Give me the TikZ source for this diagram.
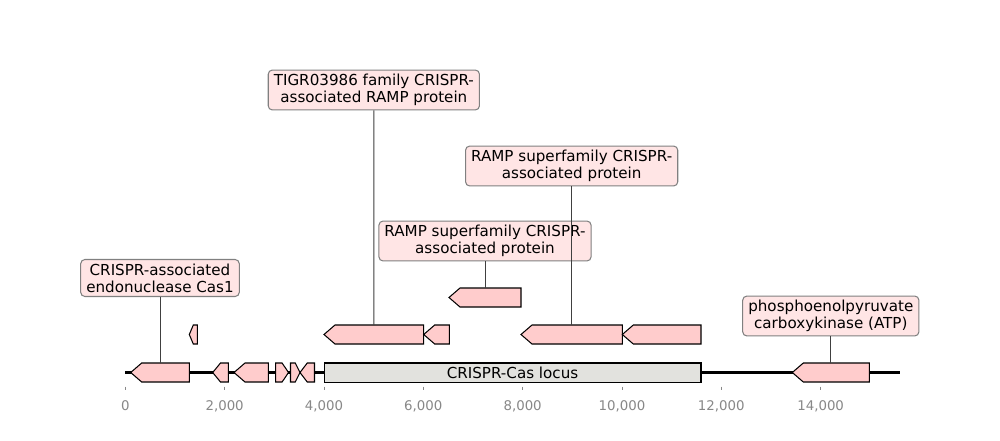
\documentclass[tikz,border=0pt]{standalone}
\usepackage{fontspec}
\setmainfont{DejaVu Sans}
\definecolor{featpink}{HTML}{FFCCCC}
\definecolor{labpink}{HTML}{FFE5E5}
\definecolor{labborder}{HTML}{808080}
\definecolor{locusgrey}{HTML}{E2E2DE}
\definecolor{tickgrey}{HTML}{888888}
% left-pointing feature: tip x, right x, centre y, name
\newcommand{\featL}[4]{%
  \draw[feat] (#1,#3) -- ({#1+min(11,(#2-#1)/2)},{#3-9.5}) -- (#2,{#3-9.5}) -- (#2,{#3+9.5}) -- ({#1+min(11,(#2-#1)/2)},{#3+9.5}) -- cycle;
  \coordinate (#4) at ({(#1+#2)/2},{#3-9.5});}
% right-pointing feature: left x, tip x, centre y, name
\newcommand{\featR}[4]{%
  \draw[feat] (#1,{#3-9.5}) -- ({#2-min(11,(#2-#1)/2)},{#3-9.5}) -- (#2,#3) -- ({#2-min(11,(#2-#1)/2)},{#3+9.5}) -- (#1,{#3+9.5}) -- cycle;
  \coordinate (#4) at ({(#1+#2)/2},{#3-9.5});}
\begin{document}
\begin{tikzpicture}[x=0.72pt,y=-0.72pt,
  feat/.style={draw=black, fill=featpink, line width=0.75pt, line join=miter},
  lab/.style={draw=labborder, fill=labpink, rounded corners=3pt, align=center,
    font=\fontsize{10.9}{12.2}\selectfont, inner xsep=4pt, inner ysep=3pt, line width=0.75pt},
  conn/.style={draw=black!75, line width=0.6pt},
  tickmark/.style={draw=tickgrey, line width=0.6pt},
  ticklab/.style={text=tickgrey, font=\fontsize{9.6}{11}\selectfont, inner sep=0pt},
  locusbox/.style={draw=black, fill=locusgrey, line width=0.75pt, inner sep=0pt,
    font=\fontsize{10.9}{12.2}\selectfont}]
\useasboundingbox (0,0) rectangle (1000,440);
\fill[white] (0,0) rectangle (1000,440);
% baseline
\coordinate (bstart) at (125,372.5);
\coordinate (bend) at (899.5,372.5);
\draw[black, line width=1.5pt] (bstart) -- (bend);
% row 1
\featL{130.7}{189.3}{372.5}{fcas1}
\featL{212.7}{228.3}{372.5}{f2}
\featL{234}{268.3}{372.5}{f3}
\featR{275.7}{288.5}{372.5}{f4}
\featR{290.5}{300}{372.5}{f5}
\featL{300}{314.5}{372.5}{f6}
\node[locusbox, minimum width=271.4pt, minimum height=13.7pt] (locus) at (512.5,372.5) {CRISPR-Cas locus};
\featL{792.3}{869.3}{372.5}{fpck}
% row 2
\featL{189.3}{197.3}{334.5}{f7}
\featL{324}{423.7}{334.5}{ftigr}
\featL{423.7}{449.3}{334.5}{f8}
\featL{521}{622.3}{334.5}{framp1}
\featL{622.3}{701}{334.5}{f9}
% row 3
\featL{449}{521}{297.5}{framp2}
% labels
\node[lab] (lcas1) at (160,278) {CRISPR-associated\\endonuclease Cas1};
\node[lab] (ltigr) at (373.85,90) {TIGR03986 family CRISPR-\\associated RAMP protein};
\node[lab] (lramp1) at (571.65,166) {RAMP superfamily CRISPR-\\associated protein};
\node[lab] (lramp2) at (485,241) {RAMP superfamily CRISPR-\\associated protein};
\node[lab] (lpck) at (830.8,316) {phosphoenolpyruvate\\carboxykinase (ATP)};
\draw[conn] (lcas1.south) -- (fcas1);
\draw[conn] (ltigr.south) -- (ftigr);
\draw[conn] (lramp1.south) -- (framp1);
\draw[conn] (lramp2.south) -- (framp2);
\draw[conn] (lpck.south) -- (fpck);
% axis ticks
\foreach \v/\t in {0/{0},2000/{2,000},4000/{4,000},6000/{6,000},8000/{8,000},10000/{10,000},12000/{12,000},14000/{14,000}} {
  \draw[tickmark] ({125.3+\v*0.04967},386.5) -- ({125.3+\v*0.04967},390);
  \node[ticklab] at ({125.3+\v*0.04967},406) {\t};
}
\end{tikzpicture}
\end{document}
